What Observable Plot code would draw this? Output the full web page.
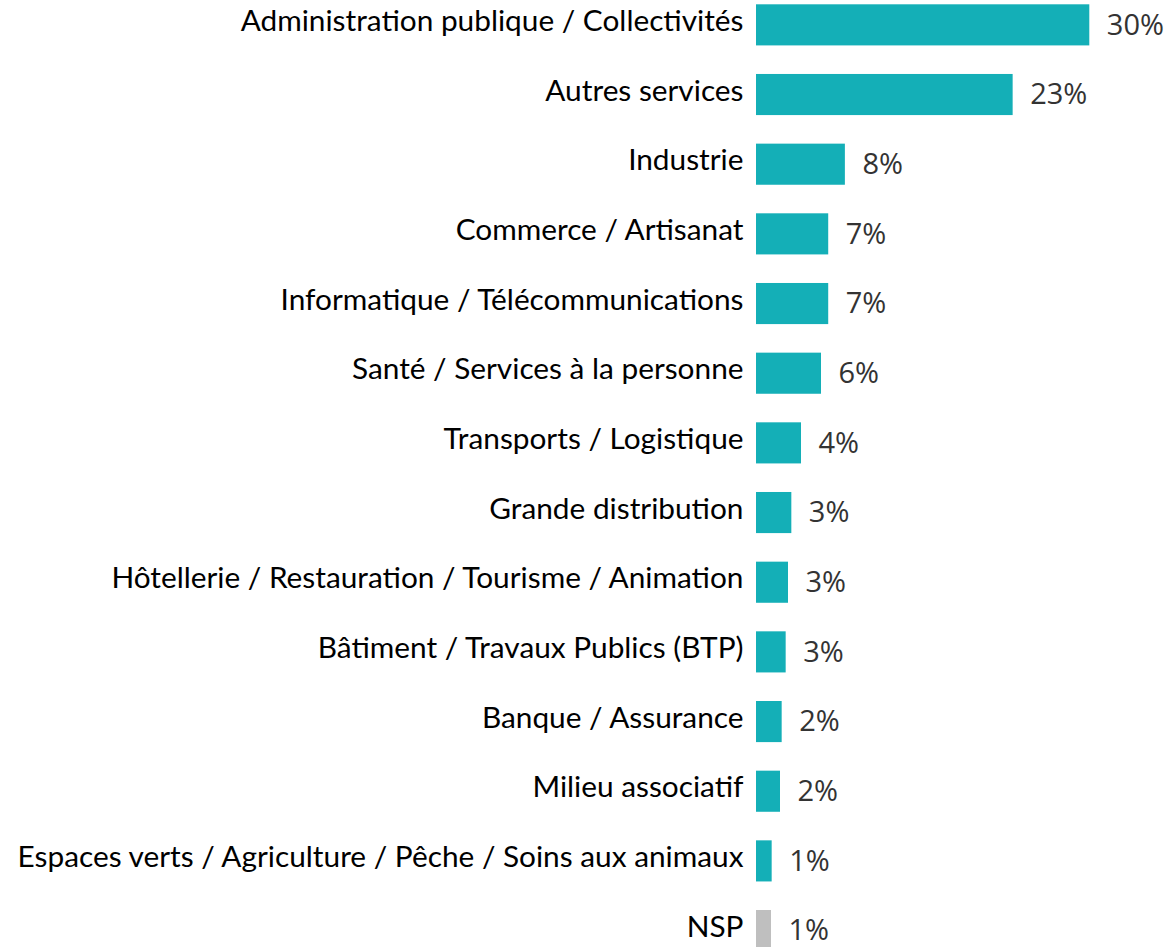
<!DOCTYPE html>
<html>
<head>
<meta charset="utf-8">
<script src="https://cdn.jsdelivr.net/npm/d3@7"></script>
<script src="https://cdn.jsdelivr.net/npm/@observablehq/plot@0.6"></script>
<style>
  html, body { margin: 0; padding: 0; background: #fff; }
  #chart svg { display: block; }
</style>
</head>
<body>
<div id="chart"></div>
<script>
const categories = [
  "Administration publique / Collectivités",
  "Autres services",
  "Industrie",
  "Commerce / Artisanat",
  "Informatique / Télécommunications",
  "Santé / Services à la personne",
  "Transports / Logistique",
  "Grande distribution",
  "Hôtellerie / Restauration / Tourisme / Animation",
  "Bâtiment / Travaux Publics (BTP)",
  "Banque / Assurance",
  "Milieu associatif",
  "Espaces verts / Agriculture / Pêche / Soins aux animaux",
  "NSP"
];
const values = [30, 23.1, 8.0, 6.5, 6.5, 5.85, 4.05, 3.18, 2.88, 2.67, 2.31, 2.16, 1.41, 1.35];
const labels = ["30%", "23%", "8%", "7%", "7%", "6%", "4%", "3%", "3%", "3%", "2%", "2%", "1%", "1%"];
const groups = ["main","main","main","main","main","main","main","main","main","main","main","main","main","nsp"];

const data = categories.map((c, i) => ({cat: c, value: values[i], label: labels[i], group: groups[i]}));

const step = 69.67, pad = 0.41, top0 = 4.3;
const a = top0 - pad * step;
const b = a + (categories.length + pad) * step;

const chart = Plot.plot({
  width: 1171,
  height: 947,
  margin: 0,
  style: {background: "#fff"},
  x: {domain: [0, 30], range: [756, 1089.3], axis: null},
  y: {domain: categories, range: [a, b], padding: pad, round: false, axis: null},
  color: {domain: ["main", "nsp"], range: ["#14afb7", "#bfbfbf"]},
  marks: [
    Plot.barX(data, {x: "value", y: "cat", fill: "group"}),
    Plot.text(data, {x: 0, y: "cat", text: "cat", textAnchor: "end", dx: -13, dy: -4,
      fill: "#000", fontSize: 29.8, fontFamily: "Lato"}),
    Plot.text(data, {x: "value", y: "cat", text: "label", textAnchor: "start", dx: 17, dy: 0,
      fill: "#333", fontSize: 29, fontFamily: "Open Sans"})
  ]
});
document.getElementById("chart").appendChild(chart);
</script>
</body>
</html>
